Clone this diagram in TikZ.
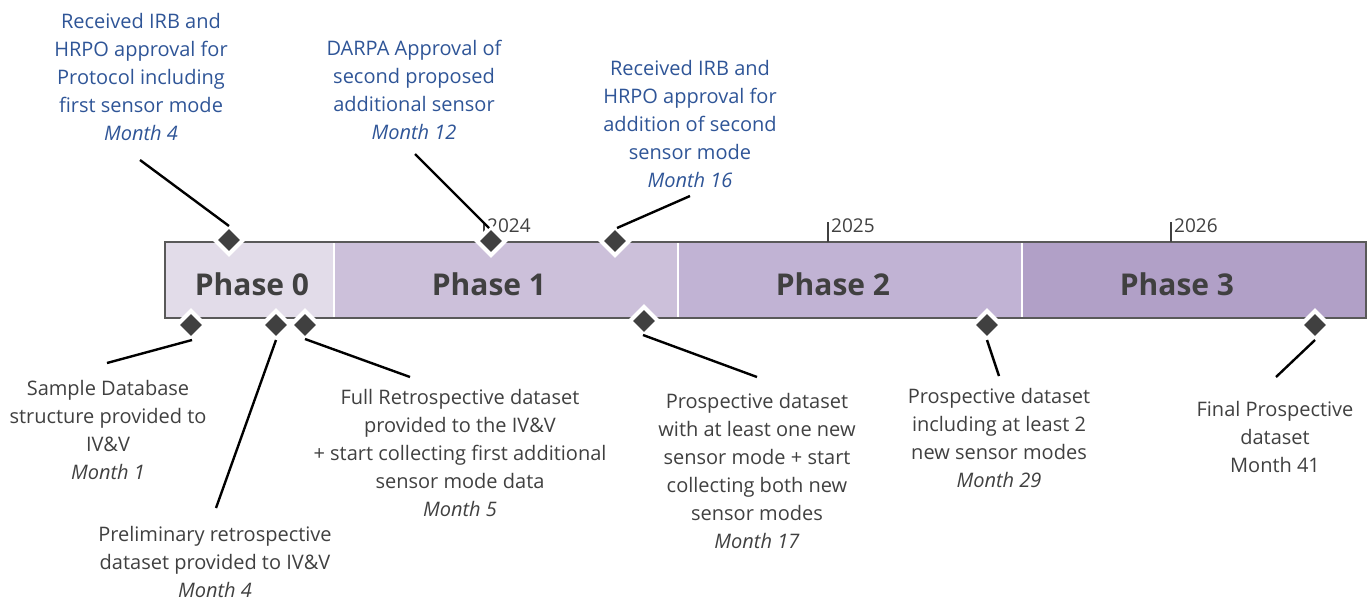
\documentclass[tikz,border=0pt]{standalone}
\usepackage{fontspec}
\setmainfont{Open Sans}
\usetikzlibrary{shapes.geometric}
\definecolor{ph0}{HTML}{E2DCE9}
\definecolor{ph1}{HTML}{CCC0DA}
\definecolor{ph2}{HTML}{C1B3D4}
\definecolor{ph3}{HTML}{B1A0C7}
\definecolor{bluetxt}{HTML}{2F5597}
\definecolor{graytxt}{HTML}{404040}
\definecolor{barline}{HTML}{595959}
\definecolor{dmd}{HTML}{404040}
\tikzset{
  toplbl/.style={align=center, text=bluetxt, inner sep=0pt, font=\fontsize{20}{28}\selectfont},
  botlbl/.style={align=center, text=graytxt, inner sep=0pt, font=\fontsize{20}{28}\selectfont},
  phaselbl/.style={text=graytxt, inner sep=0pt, font=\fontsize{30}{34}\selectfont\bfseries},
  yearlbl/.style={text=graytxt, inner sep=0pt, anchor=west, font=\fontsize{19}{22}\selectfont},
  conn/.style={draw=black, line width=2.4pt},
  tick/.style={draw=graytxt, line width=2pt},
  wdmd/.style={diamond, fill=white, minimum width=34pt, minimum height=34pt, inner sep=0pt},
  ddmd/.style={diamond, fill=dmd, minimum width=22pt, minimum height=22pt, inner sep=0pt},
}
\begin{document}
\begin{tikzpicture}[x=1pt,y=-1pt]
\useasboundingbox (0,0) rectangle (1372,603);
% bar
\fill[ph0] (165,242) rectangle (334,318);
\fill[ph1] (334,242) rectangle (678,318);
\fill[ph2] (678,242) rectangle (1022,318);
\fill[ph3] (1022,242) rectangle (1366,318);
\draw[white, line width=1.5pt] (334,243) -- (334,317) (678,243) -- (678,317) (1022,243) -- (1022,317);
\draw[barline, line width=2pt] (165,242) rectangle (1366,318);
% phase labels
\node[phaselbl] (p0) at (252,284) {Phase 0};
\node[phaselbl] (p1) at (489,284) {Phase 1};
\node[phaselbl] (p2) at (833,284) {Phase 2};
\node[phaselbl] (p3) at (1177,284) {Phase 3};
% year ticks
\draw[tick] (484,222) -- (484,242);
\draw[tick] (828,222) -- (828,242);
\draw[tick] (1171,222) -- (1171,242);
\node[yearlbl] (y24) at (487,226) {2024};
\node[yearlbl] (y25) at (831,226) {2025};
\node[yearlbl] (y26) at (1174,226) {2026};
% milestone diamonds
\foreach \n/\x/\y in {t1/229/240, t2/491/241, t3/615/241, b1/191/325, b2/276/325, b3/305/325, b4/644/321, b5/987/325, b6/1315/325}{
  \node[wdmd] at (\x,\y) {};
}
\foreach \n/\x/\y in {t1/229/240, t2/491/241, t3/615/241, b1/191/325, b2/276/325, b3/305/325, b4/644/321, b5/987/325, b6/1315/325}{
  \node[ddmd] (\n) at (\x,\y) {};
}
% labels
\node[toplbl] (lt1) at (141,77) {Received IRB and\\HRPO approval for\\Protocol including\\first sensor mode\\\textit{Month 4}};
\node[toplbl] (lt2) at (414,90) {DARPA Approval of\\second proposed\\additional sensor\\\textit{Month 12}};
\node[toplbl] (lt3) at (690,124) {Received IRB and\\HRPO approval for\\addition of second\\sensor mode\\\textit{Month 16}};
\node[botlbl] (lb1) at (108,430) {Sample Database\\structure provided to\\IV\&V\\\textit{Month 1}};
\node[botlbl] (lb2) at (215,562) {Preliminary retrospective\\dataset provided to IV\&V\\\textit{Month 4}};
\node[botlbl] (lb3) at (460,453) {Full Retrospective dataset\\provided to the IV\&V\\+ start collecting first additional\\sensor mode data\\\textit{Month 5}};
\node[botlbl] (lb4) at (757,471) {Prospective dataset\\with at least one new\\sensor mode + start\\collecting both new\\sensor modes\\\textit{Month 17}};
\node[botlbl] (lb5) at (999,438) {Prospective dataset\\including at least 2\\new sensor modes\\\textit{Month 29}};
\node[botlbl] (lb6) at (1275,437) {Final Prospective\\dataset\\Month 41};
% connector end points
\coordinate (ct1a) at (140,160); \coordinate (ct1b) at (229,226);
\coordinate (ct2a) at (415,154); \coordinate (ct2b) at (489,228);
\coordinate (ct3a) at (690,196); \coordinate (ct3b) at (617,228);
\coordinate (cb1a) at (192,340); \coordinate (cb1b) at (107,363);
\coordinate (cb2a) at (276,340); \coordinate (cb2b) at (216,508);
\coordinate (cb3a) at (305,339); \coordinate (cb3b) at (410,377);
\coordinate (cb4a) at (643,335); \coordinate (cb4b) at (757,377);
\coordinate (cb5a) at (987,340); \coordinate (cb5b) at (999,376);
\coordinate (cb6a) at (1315,340); \coordinate (cb6b) at (1276,377);
\draw[conn] (ct1a) -- (ct1b);
\draw[conn] (ct2a) -- (ct2b);
\draw[conn] (ct3a) -- (ct3b);
\draw[conn] (cb1a) -- (cb1b);
\draw[conn] (cb2a) -- (cb2b);
\draw[conn] (cb3a) -- (cb3b);
\draw[conn] (cb4a) -- (cb4b);
\draw[conn] (cb5a) -- (cb5b);
\draw[conn] (cb6a) -- (cb6b);
\end{tikzpicture}
\end{document}
